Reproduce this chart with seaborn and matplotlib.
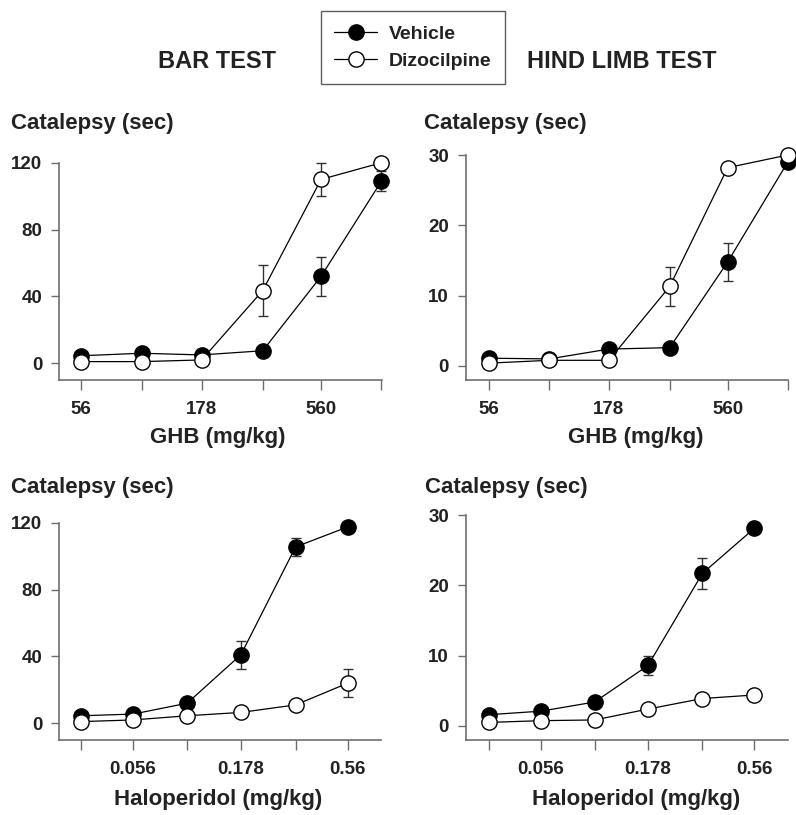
import numpy as np
import pandas as pd
import matplotlib
matplotlib.use("Agg")
import matplotlib.pyplot as plt
import seaborn as sns
from matplotlib.lines import Line2D

sns.set_theme(style="white")
plt.rcParams['font.family'] = ['Liberation Sans', 'DejaVu Sans']
plt.rcParams['font.weight'] = 'bold'

# ---- data ----
ghb_doses = [56, 100, 178, 320, 560, 1000]
hal_doses = [0.032, 0.056, 0.1, 0.178, 0.32, 0.56]
ghb_tick_labels = ["56", "", "178", "", "560", ""]
hal_tick_labels = ["", "0.056", "", "0.178", "", "0.56"]

bar_ghb_vehicle = [4.5, 6, 5, 7.5, 52, 109]
bar_ghb_vehicle_err = [0, 0, 0, 0, 11.8, 6]
bar_ghb_dizo = [1, 1, 2, 43.5, 110, 120]
bar_ghb_dizo_err = [0, 0, 0, 15.5, 9.7, 0]

hl_ghb_vehicle = [1.1, 1.0, 2.4, 2.6, 14.8, 29.0]
hl_ghb_vehicle_err = [0, 0, 0, 0, 2.7, 0]
hl_ghb_dizo = [0.4, 0.8, 0.8, 11.3, 28.2, 30]
hl_ghb_dizo_err = [0, 0, 0, 2.8, 0, 0]

bar_hal_vehicle = [4.5, 5.5, 12, 41, 105.5, 117.5]
bar_hal_vehicle_err = [0, 0, 0, 8.5, 5.6, 0]
bar_hal_dizo = [1, 2, 4.5, 6.5, 11, 24]
bar_hal_dizo_err = [0, 0, 0, 0, 0, 8.5]

hl_hal_vehicle = [1.6, 2.1, 3.4, 8.6, 21.7, 28.1]
hl_hal_vehicle_err = [0, 0, 0, 1.35, 2.25, 0]
hl_hal_dizo = [0.5, 0.75, 0.85, 2.4, 3.9, 4.4]
hl_hal_dizo_err = [0, 0, 0, 0, 0, 0]

titles = ["BAR TEST", "HIND LIMB TEST"]
ylabel = "Catalepsy (sec)"
xlabels = ["GHB (mg/kg)", "Haloperidol (mg/kg)"]
series_names = ["Vehicle", "Dizocilpine"]

W, H = 796, 815
fig = plt.figure(figsize=(W / 100, H / 100), dpi=100)

def px_axes(left, right, top, bottom):
    return fig.add_axes([left / W, 1 - bottom / H, (right - left) / W, (bottom - top) / H])

panels = [
    ((59, 382, 162.7, 380), ghb_doses, ghb_tick_labels, bar_ghb_vehicle, bar_ghb_vehicle_err,
     bar_ghb_dizo, bar_ghb_dizo_err, (-10, 120), [0, 40, 80, 120], (45.3, 1005), xlabels[0],
     (218, 437), (11, 124)),
    ((465.7, 788, 155, 380), ghb_doses, ghb_tick_labels, hl_ghb_vehicle, hl_ghb_vehicle_err,
     hl_ghb_dizo, hl_ghb_dizo_err, (-2, 30), [0, 10, 20, 30], (44.7, 1002), xlabels[0],
     (636, 437), (424, 123)),
    ((59, 381, 522.7, 740), hal_doses, hal_tick_labels, bar_hal_vehicle, bar_hal_vehicle_err,
     bar_hal_dizo, bar_hal_dizo_err, (-10, 120), [0, 40, 80, 120], (0.0253, 0.80), xlabels[1],
     (218, 800), (11, 488)),
    ((465.7, 787.7, 515, 740), hal_doses, hal_tick_labels, hl_hal_vehicle, hl_hal_vehicle_err,
     hl_hal_dizo, hl_hal_dizo_err, (-2, 30), [0, 10, 20, 30], (0.0249, 0.803), xlabels[1],
     (636, 800), (425, 488)),
]

spine_col = "#6e6e6e"
ms = 11
for (box, doses, tlabels, veh, veh_err, diz, diz_err, ylim, yticks, xlim, xlab,
     xlab_pos, ylab_pos) in panels:
    ax = px_axes(box[0], box[1], box[2], box[3])
    ax.set_facecolor("white")
    df_v = pd.DataFrame({"dose": doses, "val": veh, "err": veh_err})
    df_d = pd.DataFrame({"dose": doses, "val": diz, "err": diz_err})
    for df in (df_v, df_d):
        m = df["err"] > 0
        if m.any():
            ax.errorbar(df.loc[m, "dose"], df.loc[m, "val"], yerr=df.loc[m, "err"], fmt="none",
                        ecolor="#333333", elinewidth=1.0, capsize=3.5, capthick=1.0, zorder=2,
                        clip_on=False)
    sns.lineplot(data=df_v, x="dose", y="val", ax=ax, color="black", marker="o",
                 markersize=ms, markerfacecolor="black", markeredgecolor="black",
                 markeredgewidth=1.0, linewidth=0.9, zorder=3, clip_on=False)
    sns.lineplot(data=df_d, x="dose", y="val", ax=ax, color="black", marker="o",
                 markersize=ms, markerfacecolor="white", markeredgecolor="black",
                 markeredgewidth=1.0, linewidth=0.9, zorder=4, clip_on=False)
    ax.set_xscale("log")
    ax.set_xlim(*xlim)
    ax.set_ylim(*ylim)
    ax.set_xticks(doses)
    ax.set_xticklabels(tlabels)
    ax.xaxis.set_minor_locator(matplotlib.ticker.NullLocator())
    ax.set_yticks(yticks)
    ax.set_yticklabels([str(v) for v in yticks])
    ax.set_xlabel("")
    ax.set_ylabel("")
    for s in ["top", "right"]:
        ax.spines[s].set_visible(False)
    for s in ["left", "bottom"]:
        ax.spines[s].set_color(spine_col)
        ax.spines[s].set_linewidth(1.2)
    ax.tick_params(axis="both", direction="out", color=spine_col, width=1.0, labelsize=13.5,
                   labelcolor="#222222", bottom=True, left=True)
    ax.tick_params(axis="y", length=6, pad=6)
    ax.tick_params(axis="x", length=7, pad=8)
    for lab in ax.get_xticklabels() + ax.get_yticklabels():
        lab.set_fontweight("bold")
    fig.text(xlab_pos[0] / W, 1 - xlab_pos[1] / H, xlab, ha="center", va="center",
             fontsize=16, fontweight="bold", color="#222222")
    fig.text(ylab_pos[0] / W, 1 - ylab_pos[1] / H, ylabel, ha="left", va="center",
             fontsize=16, fontweight="bold", color="#222222")

fig.text(217 / W, 1 - 61 / H, titles[0], ha="center", va="center", fontsize=17,
         fontweight="bold", color="#222222")
fig.text(622 / W, 1 - 61 / H, titles[1], ha="center", va="center", fontsize=17,
         fontweight="bold", color="#222222")

handles = [
    Line2D([], [], color="black", marker="o", markersize=ms, markerfacecolor="black",
           markeredgecolor="black", linewidth=0.9),
    Line2D([], [], color="black", marker="o", markersize=ms, markerfacecolor="white",
           markeredgecolor="black", linewidth=0.9),
]
leg = fig.legend(handles, series_names, loc="center", bbox_to_anchor=(413 / W, 1 - 47.5 / H),
                 frameon=True, fancybox=False, edgecolor="#333333",
                 handlelength=2.2, handletextpad=0.6, borderpad=0.7, labelspacing=0.5,
                 borderaxespad=0, prop={"weight": "bold", "size": 14})
leg.get_frame().set_linewidth(1.0)
for t in leg.get_texts():
    t.set_color("#222222")

fig.savefig("out.png", dpi=100, facecolor="white")
